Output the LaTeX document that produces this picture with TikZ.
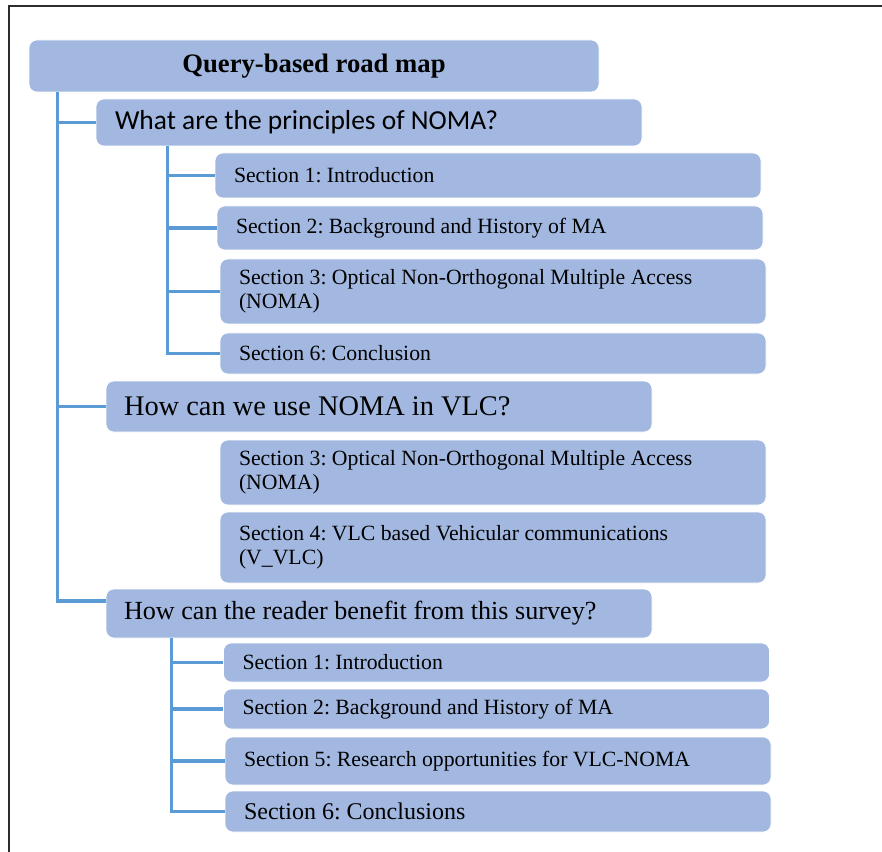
\documentclass[tikz,border=0pt]{standalone}
\usepackage{fontspec}
\setmainfont{Liberation Serif}
\newfontfamily\calfont{Carlito}
\frenchspacing

\definecolor{boxblue}{RGB}{162,184,224}
\definecolor{linkblue}{RGB}{91,155,213}
\definecolor{framegray}{RGB}{45,45,45}

\tikzset{
  box/.style={fill=boxblue, draw=white, line width=0.5pt, rounded corners=6pt,
    inner xsep=14.25pt, inner ysep=0pt, text width=381pt, align=flush left},
  query/.style={box, inner xsep=13.5pt, text width=382.5pt},
  sec/.style={box, font=\fontsize{16.3}{17.75}\selectfont},
  link/.style={draw=linkblue, line width=2.4pt},
}

\begin{document}
\begin{tikzpicture}[x=0.75pt,y=0.75pt,yscale=-1,xscale=1]
\useasboundingbox (0,0) rectangle (882,852);

%Frame
\draw [framegray, line width=1.5pt] (9,852) -- (9,6) -- (882,6);

%Title
\node [box, text width=399pt, align=flush center, minimum height=39pt,
  font=\fontsize{20}{24}\selectfont\bfseries] (title) at (314,66) {Query-based road map};

%Query 1
\node [box, minimum height=35.25pt, font=\calfont\fontsize{20.6}{24}\selectfont] (q1) at (369,122.5)
  {What are the principles of NOMA?};
\node [sec, minimum height=33.75pt] (s1) at (488,175.5) {Section 1: Introduction};
\node [sec, minimum height=33pt] (s2) at (490,228) {Section 2: Background and History of MA};
\node [sec, minimum height=48.75pt] (s3) at (493,291.5)
  {Section 3: Optical Non-Orthogonal Multiple Access\\(NOMA)};
\node [sec, minimum height=30.75pt] (s6) at (493,353.5) {Section 6: Conclusion};

%Query 2
\node [query, minimum height=38.25pt, font=\fontsize{21.3}{25}\selectfont] (q2) at (379,406.5)
  {How can we use NOMA in VLC?};
\node [sec, minimum height=48.75pt] (s3b) at (493,472.5)
  {Section 3: Optical Non-Orthogonal Multiple Access\\(NOMA)};
\node [sec, minimum height=53.25pt] (s4) at (493,547.5)
  {Section 4: VLC based Vehicular communications\\(V\_VLC)};

%Query 3
\node [query, minimum height=36.75pt, font=\fontsize{19.6}{23}\selectfont] (q3) at (379,613.5)
  {How can the reader benefit from this survey?};
\node [sec, minimum height=29.25pt] (s1b) at (496.5,662.5) {Section 1: Introduction};
\node [sec, minimum height=30pt] (s2b) at (496.5,709) {Section 2: Background and History of MA};
\node [sec, minimum height=36pt] (s5) at (498,761) {Section 5: Research opportunities for VLC-NOMA};
\node [sec, minimum height=30.75pt, font=\fontsize{18}{21}\selectfont] (s6b) at (498,811.5)
  {Section 6: Conclusions};

%Connectors
\draw [link] (title.south west) ++(29,0) |- (q1.west);
\draw [link] (title.south west) ++(29,0) |- (q2.west);
\draw [link] (title.south west) ++(29,0) |- ([yshift=-9.4pt]q3.west);
\foreach \s in {s1,s2,s3,s6}
  \draw [link] (q1.south west) ++(72,0) |- (\s.west);
\foreach \s in {s1b,s2b,s5,s6b}
  \draw [link] (q3.south west) ++(66,0) |- (\s.west);

\end{tikzpicture}
\end{document}
